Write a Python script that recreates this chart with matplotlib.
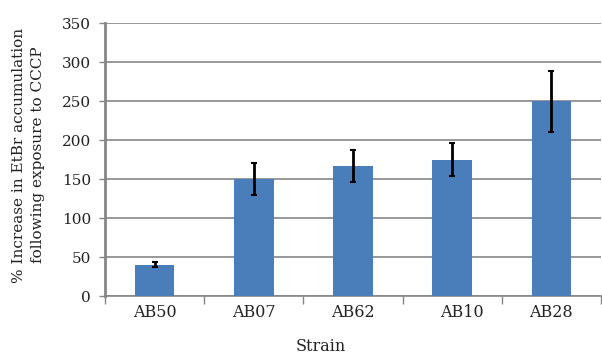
import matplotlib
matplotlib.use("Agg")
import matplotlib.pyplot as plt
import matplotlib.transforms as mtransforms
import numpy as np

strains = ["AB50", "AB07", "AB62", "AB10", "AB28"]
values = [40, 150, 167, 175, 250]
errors = [3, 21, 21, 21.5, 39]
yticks = [0, 50, 100, 150, 200, 250, 300, 350]

plt.rcParams['font.family'] = ['DejaVu Serif']

fig = plt.figure(figsize=(6.02, 3.54), dpi=100)
W, H = 602, 354
ax = fig.add_axes([105 / W, (H - 296) / H, (601 - 105) / W, (296 - 23.3) / H])

x = np.arange(len(strains))
ax.bar(x, values, width=0.40, color="#4A7EBB", zorder=3)
ax.errorbar(x, values, yerr=errors, fmt="none", ecolor="black", elinewidth=2,
            capsize=2, capthick=1.5, zorder=4)

ax.set_xlim(-0.5, -0.5 + (601 - 105) / 101.4)
ax.set_ylim(0, 350)
ax.set_yticks(yticks)
ax.set_yticklabels([str(t) for t in yticks], fontsize=11, color="#222222")
ax.yaxis.grid(True, color="#868686", linewidth=1.2, zorder=0)
ax.set_axisbelow(True)

ax.set_xticks(np.arange(-0.5, len(strains), 1.0))
ax.set_xticklabels([])
ax.set_xticks(x, minor=True)
ax.set_xticklabels(strains, minor=True, fontsize=11.5, color="#222222")
ax.tick_params(axis="x", which="minor", length=0, pad=6)
ax.tick_params(axis="x", which="major", length=6, color="#868686", width=1)
ax.tick_params(axis="y", length=4, color="#868686", width=1, pad=6)

# the AB10 label sits slightly right of its bar in the reference
lbl = ax.get_xticklabels(minor=True)[3]
lbl.set_transform(lbl.get_transform() + mtransforms.ScaledTranslation(10 / 100, 0, fig.dpi_scale_trans))

for s in ["top", "right"]:
    ax.spines[s].set_visible(False)
ax.spines["left"].set_color("#868686")
ax.spines["left"].set_linewidth(2)
ax.spines["bottom"].set_color("#868686")
ax.spines["bottom"].set_linewidth(1.2)

fig.text(321 / W, 3 / H, "Strain", fontsize=11.5, ha="center", va="baseline", color="#222222")
fig.text(28.5 / W, (H - 155) / H, "% Increase in EtBr accumulation\nfollowing exposure to CCCP",
         fontsize=11, rotation=90, ha="center", va="center", ma="center",
         linespacing=1.45, color="#222222")

fig.savefig("out.png", dpi=100)
